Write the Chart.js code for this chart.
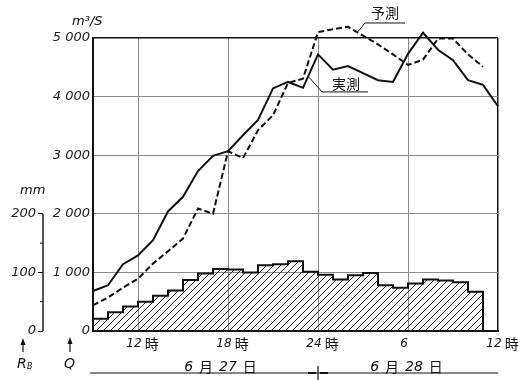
<!DOCTYPE html>
<html>
<head>
<meta charset="utf-8">
<script src="https://cdn.jsdelivr.net/npm/chart.js@4.4.0/dist/chart.umd.min.js"></script>
<style>
  html, body { margin: 0; padding: 0; background: #fff; }
</style>
</head>
<body>
<canvas id="flowChart" width="518" height="380"></canvas>
<script>
// hours counted from 0:00 on 6/27 (24 = midnight, 36 = 12:00 on 6/28)
const hours = [9, 10, 11, 12, 13, 14, 15, 16, 17, 18, 19, 20, 21, 22, 23, 24, 25, 26, 27, 28, 29, 30, 31, 32, 33, 34, 35, 36]
// 実測 discharge, m3/s
const observed = [683, 780, 1140, 1290, 1550, 2040, 2290, 2730, 2990, 3070, 3340, 3600, 4140, 4250, 4150, 4720, 4460, 4520, 4400, 4280, 4250, 4730, 5090, 4800, 4620, 4280, 4200, 3835]
// 予測 discharge, m3/s (9時 .. 35時)
const forecast = [440, 570, 740, 894, 1150, 1360, 1577, 2090, 2000, 3067, 2952, 3425, 3681, 4232, 4307, 5100, 5150, 5190, 5040, 4890, 4720, 4540, 4630, 4990, 4990, 4720, 4510]
// hourly basin rainfall R_B, mm (bar starting at each hour, 9時 .. 34時)
const rainfall = [21, 32, 42, 50, 60, 69, 87, 98, 106, 105, 100, 112, 114, 119, 101, 96, 88, 95, 99, 78, 74, 81, 88, 86, 83, 67]
const rainEnd = 35

const xTicks = [9, 12, 18, 24, 30, 36]
const xTickLabels = ['', '12時', '18時', '24時', '6', '12時']
const qTicks = [0, 1000, 2000, 3000, 4000, 5000]
const qTickLabels = ['0', '1 000', '2 000', '3 000', '4 000', '5 000']
const rbTicks = [0, 100, 200]
const rbMinorTicks = [50, 150]
const dateLabels = ['6 月 27 日', '6 月 28 日']
const dateCenters = [17.5, 29.9]

const numFont = 'italic 13px "DejaVu Sans"'
const jpFont = '"Noto Sans CJK JP"'

const ctx = document.getElementById('flowChart').getContext('2d')

const hatchTile = document.createElement('canvas')
hatchTile.width = 7
hatchTile.height = 7
const ht = hatchTile.getContext('2d')
ht.strokeStyle = '#222'
ht.lineWidth = 1
ht.beginPath()
ht.moveTo(0, 7); ht.lineTo(7, 0)
ht.moveTo(-1, 1); ht.lineTo(1, -1)
ht.moveTo(6, 8); ht.lineTo(8, 6)
ht.stroke()
const hatch = ctx.createPattern(hatchTile, 'repeat')

const rainPoints = rainfall.map((v, i) => ({ x: hours[i], y: v }))
rainPoints.push({ x: rainEnd, y: 0 })

// digits in italic, kanji upright, small gap between runs
function mixedText(c, text, cx, y, size, gap) {
  const runs = text.split(/(\d+)/).map(s => s.trim()).filter(s => s)
  const fontFor = s => /\d/.test(s) ? `italic ${size}px "DejaVu Sans"` : `${size}px ${jpFont}`
  let total = gap * (runs.length - 1)
  const widths = runs.map(s => { c.font = fontFor(s); const w = c.measureText(s).width; total += w; return w })
  let px = cx - total / 2
  c.textAlign = 'left'
  runs.forEach((s, i) => { c.font = fontFor(s); c.fillText(s, px, y); px += widths[i] + gap })
}

function line(c, x1, y1, x2, y2) {
  c.beginPath(); c.moveTo(x1, y1); c.lineTo(x2, y2); c.stroke()
}

function arrowUp(c, x, yTop, yBottom) {
  line(c, x, yTop + 4, x, yBottom)
  c.beginPath(); c.moveTo(x, yTop); c.lineTo(x - 2.5, yTop + 7); c.lineTo(x + 2.5, yTop + 7); c.closePath(); c.fill()
}

const extras = {
  id: 'extras',
  afterDraw(chart) {
    const c = chart.ctx
    const x = chart.scales.x, q = chart.scales.y, rb = chart.scales.rb
    const bottom = chart.chartArea.bottom
    c.save()
    c.fillStyle = '#111'
    c.strokeStyle = '#111'
    c.textBaseline = 'middle'

    // x tick labels: italic number just left of the grid line, 時 after it
    xTicks.forEach((v, i) => {
      const m = xTickLabels[i].match(/^(\d*)(.*)$/)
      if (!m[1]) return
      const px = x.getPixelForValue(v) - 4
      c.font = 'italic 12px "DejaVu Sans"'
      c.textAlign = 'center'
      c.fillText(m[1], px, bottom + 13)
      const w = c.measureText(m[1]).width
      if (m[2]) {
        c.font = `14px ${jpFont}`
        c.textAlign = 'left'
        c.fillText(m[2], px + w / 2 + 3, bottom + 13)
      }
    })

    // date labels and the day line
    dateLabels.forEach((t, i) => mixedText(c, t, x.getPixelForValue(dateCenters[i]), bottom + 36, 14, 6))
    const dy = bottom + 42
    c.lineWidth = 1.2
    line(c, x.left - 3, dy, x.right, dy)
    const mid = x.getPixelForValue(24)
    line(c, mid, dy - 7, mid, dy + 7)
    c.lineWidth = 2
    line(c, mid - 10, dy, mid - 2, dy)
    line(c, mid + 2, dy, mid + 10, dy)

    // R_B axis line (0..200 mm) and minor ticks
    c.lineWidth = 1.4
    line(c, rb.right, rb.getPixelForValue(0), rb.right, rb.getPixelForValue(rbTicks[rbTicks.length - 1]))
    c.lineWidth = 1
    rbMinorTicks.forEach(v => line(c, rb.right - 3, rb.getPixelForValue(v), rb.right, rb.getPixelForValue(v)))

    // unit labels
    c.font = numFont
    c.textAlign = 'left'
    c.fillText('m³/S', 72, 22)
    c.fillText('mm', 20, 191)

    // axis arrows
    c.lineWidth = 1.2
    arrowUp(c, 23, 338, 352)
    arrowUp(c, 70, 337, 352)
    c.font = 'italic 14px "DejaVu Sans"'
    c.fillText('R', 17, 364)
    c.font = 'italic 8px "DejaVu Sans"'
    c.fillText('B', 27, 367)
    c.font = 'italic 14px "DejaVu Sans"'
    c.fillText('Q', 64, 364)

    // series labels with leader lines
    c.lineWidth = 1
    const p = (h, v) => [x.getPixelForValue(h), q.getPixelForValue(v)]
    let a = p(26.67, 5110), b = p(27.13, 5256), e = p(29.8, 5256)
    line(c, a[0], a[1], b[0], b[1]); line(c, b[0], b[1], e[0], b[1])
    c.font = `14px ${jpFont}`
    c.textAlign = 'center'
    c.fillText('予測', (b[0] + e[0]) / 2, b[1] - 10)
    a = p(23.4, 4330); b = p(24.27, 4080); e = p(27.33, 4080)
    line(c, a[0], a[1], b[0], b[1]); line(c, b[0], b[1], e[0], b[1])
    c.fillText('実測', (b[0] + e[0]) / 2 + 1, b[1] - 8)
    c.restore()
  }
}

const gridGray = '#8a8a8a'

new Chart(ctx, {
  type: 'line',
  data: {
    datasets: [
      {
        label: '実測',
        data: hours.map((h, i) => ({ x: h, y: observed[i] })),
        borderColor: '#111',
        borderWidth: 2,
        pointRadius: 0,
        tension: 0,
        fill: false,
        clip: false,
        yAxisID: 'y'
      },
      {
        label: '予測',
        data: forecast.map((v, i) => ({ x: hours[i], y: v })),
        borderColor: '#111',
        borderWidth: 2,
        borderDash: [6, 3],
        pointRadius: 0,
        tension: 0,
        fill: false,
        clip: false,
        yAxisID: 'y'
      },
      {
        label: 'R_B',
        data: rainPoints,
        stepped: true,
        borderColor: '#111',
        borderWidth: 2,
        backgroundColor: hatch,
        fill: 'origin',
        pointRadius: 0,
        yAxisID: 'rb'
      }
    ]
  },
  options: {
    responsive: false,
    animation: false,
    events: [],
    layout: { padding: { top: 38, right: 20, left: 0, bottom: 0 } },
    scales: {
      x: {
        type: 'linear',
        min: 9,
        max: 36,
        afterBuildTicks: s => { s.ticks = xTicks.map(v => ({ value: v })) },
        afterFit: s => { s.height = 49 },
        ticks: { display: false },
        grid: {
          drawTicks: false,
          color: c => (c.tick.value === 9 || c.tick.value === 36) ? '#111' : gridGray,
          lineWidth: c => (c.tick.value === 36) ? 1.5 : 1
        },
        border: { color: '#111', width: 2 }
      },
      y: {
        position: 'left',
        weight: 0,
        min: 0,
        max: 5000,
        afterBuildTicks: s => { s.ticks = qTicks.map(v => ({ value: v })) },
        afterFit: s => { s.width = 50 },
        ticks: {
          padding: 3,
          color: '#222',
          font: { family: 'DejaVu Sans', style: 'italic', size: 13 },
          callback: v => qTickLabels[qTicks.indexOf(v)]
        },
        grid: {
          drawTicks: false,
          color: c => c.tick.value === 5000 ? '#111' : gridGray,
          lineWidth: c => c.tick.value === 5000 ? 1.5 : 1
        },
        border: { color: '#111', width: 2 }
      },
      rb: {
        position: 'left',
        weight: 1,
        min: 0,
        max: 500,
        afterBuildTicks: s => { s.ticks = rbTicks.map(v => ({ value: v })) },
        afterFit: s => { s.width = 43 },
        ticks: {
          padding: 2,
          color: '#222',
          font: { family: 'DejaVu Sans', style: 'italic', size: 13 },
          callback: v => String(v)
        },
        grid: { drawOnChartArea: false, drawTicks: true, tickLength: 5, color: '#111', lineWidth: 1 },
        border: { display: false }
      }
    },
    plugins: {
      legend: { display: false },
      tooltip: { enabled: false }
    }
  },
  plugins: [extras]
})
</script>
</body>
</html>
